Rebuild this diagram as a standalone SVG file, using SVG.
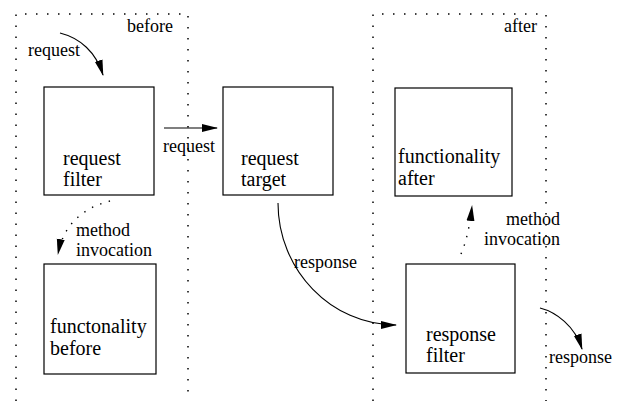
<svg xmlns="http://www.w3.org/2000/svg" width="620" height="401" viewBox="0 0 620 401">
<style>
  .box { fill: none; stroke: #000; stroke-width: 1.2; }
  .zone { fill: none; stroke: #000; stroke-width: 1.5; stroke-dasharray: 1.5 9.5; }
  .arr { fill: none; stroke: #000; stroke-width: 1.1; marker-end: url(#ah); }
  .dot { fill: none; stroke: #000; stroke-width: 1.4; stroke-dasharray: 1.4 7.5; marker-end: url(#ah); }
</style>
<defs>
  <marker id="ah" viewBox="0 0 16 10" refX="15" refY="5" markerWidth="16" markerHeight="10" markerUnits="userSpaceOnUse" orient="auto">
    <path d="M0,1 L16,5 L0,9 Z" fill="#000"/>
  </marker>
</defs>
<rect width="620" height="401" fill="#fff"/>

<g font-family="Liberation Serif, Times New Roman, serif" fill="#000">
<g id="zone-before">
  <path class="zone" d="M16,401 L16,14 L188,14 L188,401"/>
  <text font-size="18" x="173" y="32" text-anchor="end">before</text>
</g>
<g id="zone-after">
  <path class="zone" d="M373,401 L373,14 L546,14 L546,401"/>
  <text font-size="18" x="537" y="32" text-anchor="end">after</text>
</g>

<g id="request-filter">
  <rect class="box" x="44" y="87" width="110" height="108"/>
  <text font-size="20" x="63" y="165">request</text>
  <text font-size="20" x="63" y="186">filter</text>
</g>
<g id="request-target">
  <rect class="box" x="223" y="87" width="110" height="108"/>
  <text font-size="20" x="241" y="165">request</text>
  <text font-size="20" x="241" y="186">target</text>
</g>
<g id="functonality-before">
  <rect class="box" x="44" y="264" width="112" height="110"/>
  <text font-size="20" x="50" y="333">functonality</text>
  <text font-size="20" x="50" y="355">before</text>
</g>
<g id="functionality-after">
  <rect class="box" x="395" y="88" width="117" height="108"/>
  <text font-size="20" x="398" y="163">functionality</text>
  <text font-size="20" x="398" y="185">after</text>
</g>
<g id="response-filter">
  <rect class="box" x="406" y="264" width="109" height="109"/>
  <text font-size="20" x="426" y="341">response</text>
  <text font-size="20" x="426" y="362">filter</text>
</g>

<g id="connectors">
  <path class="arr" d="M60,33 C80,38 96,52 103,75"/>
  <text font-size="18" x="28" y="56">request</text>

  <path class="arr" d="M164,128 L217,128"/>
  <text font-size="18" x="163" y="152">request</text>

  <path class="dot" d="M110,201 C86,207 64,222 58,254"/>
  <text font-size="18" x="76" y="236">method</text>
  <text font-size="18" x="76" y="256">invocation</text>

  <path class="arr" d="M278,203 C278,270 331,325 396,325"/>
  <text font-size="18" x="294" y="268">response</text>

  <path class="dot" d="M461,254 Q469,235 472,206"/>
  <text font-size="18" x="560" y="225" text-anchor="end">method</text>
  <text font-size="18" x="560" y="245" text-anchor="end">invocation</text>

  <path class="arr" d="M540,308 C556,312 575,326 582,349"/>
  <text font-size="18" x="549" y="363">response</text>
</g>
</g>
</svg>
